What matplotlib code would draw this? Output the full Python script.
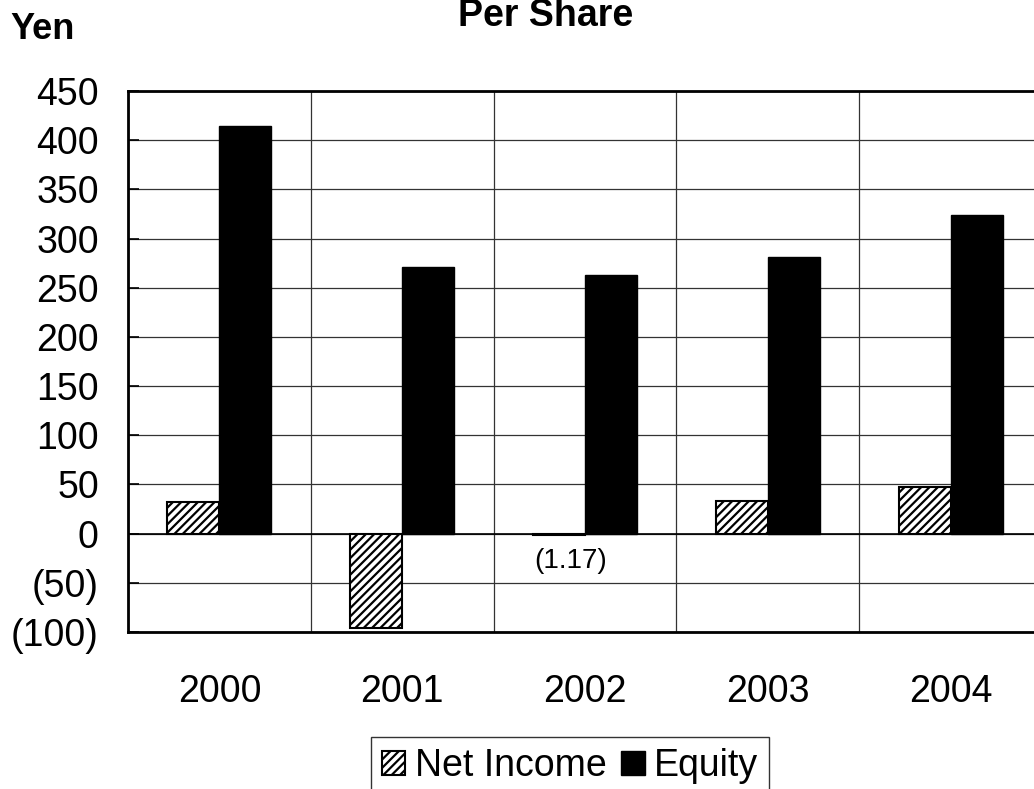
import matplotlib
matplotlib.use("Agg")
import matplotlib.pyplot as plt
from matplotlib.ticker import FuncFormatter, FixedLocator
import numpy as np

plt.rcParams['font.family'] = ['Liberation Sans', 'DejaVu Sans']
plt.rcParams['hatch.linewidth'] = 1.6

years = ['2000', '2001', '2002', '2003', '2004']
net_income = [32, -96, -1.17, 33, 47]
equity = [414, 271, 263, 281, 324]
series_names = ['Net Income', 'Equity']
title = 'Per Share'
unit_label = 'Yen'
annot_text = '(1.17)'
annot_index = 2

fig = plt.figure(figsize=(10.34, 7.89), dpi=100)
ax = fig.add_axes([128/1034, 1-632/789, (1042-128)/1034, (632-91)/789])

x = np.arange(len(years))
w = 0.284
b1 = ax.bar(x - w/2, net_income, w, facecolor='white', edgecolor='black',
            hatch='////', linewidth=1.5, label=series_names[0], zorder=3)
b2 = ax.bar(x + w/2, equity, w, facecolor='black', edgecolor='black',
            linewidth=1.0, label=series_names[1], zorder=3)

ax.set_xlim(-0.5, len(years) - 0.5)
ax.set_ylim(-100, 450)
ax.yaxis.set_major_locator(FixedLocator(np.arange(-100, 451, 50)))

def fmt(v, pos):
    v = int(round(v))
    return f'({abs(v)})' if v < 0 else f'{v}'
ax.yaxis.set_major_formatter(FuncFormatter(fmt))

ax.set_xticks(x)
ax.set_xticklabels(years)
ax.set_xticks(np.arange(-0.5, len(years), 1.0), minor=True)

ax.tick_params(axis='x', which='major', length=0, pad=30, labelsize=27)
ax.tick_params(axis='x', which='minor', length=0)
ax.tick_params(axis='y', which='major', direction='in', length=8, width=1.2,
               pad=21, labelsize=27)

ax.grid(axis='y', which='major', color='#333333', linewidth=0.9, zorder=0)
ax.grid(axis='x', which='minor', color='#333333', linewidth=0.9, zorder=0)
ax.set_axisbelow(True)
ax.axhline(0, color='black', linewidth=1.2, zorder=2)

for s in ['left', 'top', 'bottom', 'right']:
    ax.spines[s].set_linewidth(2.0)
    ax.spines[s].set_color('black')

ax.annotate(annot_text, xy=(x[annot_index] - w/2, net_income[annot_index]),
            xytext=(12, -26), textcoords='offset pixels', ha='center', va='center',
            fontsize=20)

fig.text(546/1034, 1-26/789, title, ha='center', va='baseline',
         fontsize=27, fontweight='bold')
fig.text(10/1034, 1-39/789, unit_label, ha='left', va='baseline',
         fontsize=26, fontweight='bold')

leg = fig.legend(handles=[b1, b2], labels=series_names, loc='upper center',
                 bbox_to_anchor=(570/1034, 1-737/789), ncol=2, fontsize=27,
                 frameon=True, fancybox=False, edgecolor='black',
                 handlelength=0.62, handleheight=0.62, handletextpad=0.25,
                 columnspacing=0.4, borderpad=0.3, borderaxespad=0)
leg.get_frame().set_linewidth(1.0)

fig.savefig('out.png', dpi=100)
